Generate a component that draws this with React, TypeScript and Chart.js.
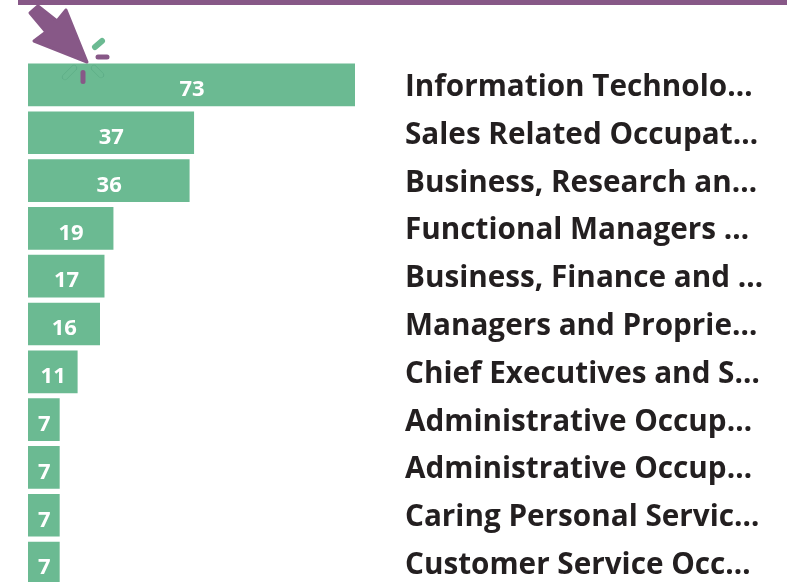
import React, { useEffect, useRef } from "react";
import { Chart, registerables } from "chart.js";

Chart.register(...registerables);

const categories = [
  "Information Technolo…",
  "Sales Related Occupat…",
  "Business, Research an…",
  "Functional Managers …",
  "Business, Finance and …",
  "Managers and Proprie…",
  "Chief Executives and S…",
  "Administrative Occup…",
  "Administrative Occup…",
  "Caring Personal Servic…",
  "Customer Service Occ…",
];
const values = [73, 37, 36, 19, 17, 16, 11, 7, 7, 7, 7];

const GREEN = "#6bba92";
const PURPLE = "#875887";
const FONT = '"Open Sans", sans-serif';

const valueLabels = {
  id: "valueLabels",
  afterDatasetsDraw(chart: any) {
    const { ctx } = chart;
    ctx.save();
    ctx.fillStyle = "#ffffff";
    ctx.font = `700 22px ${FONT}`;
    ctx.textAlign = "center";
    ctx.textBaseline = "middle";
    chart.getDatasetMeta(0).data.forEach((bar: any, i: number) => {
      const cx = (bar.x + bar.base) / 2;
      ctx.fillText(String(values[i]), cx + 0.5, bar.y + 5);
    });
    ctx.restore();
  },
};

export default function App() {
  const ref = useRef<HTMLCanvasElement>(null);
  useEffect(() => {
    document.body.style.margin = "0";
    const chart = new Chart(ref.current!, {
      type: "bar",
      data: {
        labels: categories,
        datasets: [
          {
            data: values,
            backgroundColor: GREEN,
            borderWidth: 0,
            barThickness: 42,
          },
        ],
      },
      options: {
        indexAxis: "y",
        animation: false,
        responsive: false,
        layout: { autoPadding: false, padding: { top: 61, left: 28, right: 0, bottom: 0 } },
        plugins: { legend: { display: false }, tooltip: { enabled: false } },
        scales: {
          x: { display: false, min: 0, max: 73 },
          y: {
            position: "right",
            grid: { display: false },
            border: { display: false },
            afterFit(scale: any) {
              scale.width = 432;
              scale.paddingTop = 0;
              scale.paddingBottom = 0;
            },
            ticks: {
              autoSkip: false,
              padding: 42,
              labelOffset: 2.5,
              color: "#231f20",
              font: { family: FONT, size: 29.7, weight: "700" },
            },
          },
        },
      },
      plugins: [valueLabels],
    });
    return () => chart.destroy();
  }, []);

  return (
    <div style={{ position: "relative", width: 787, height: 582, overflow: "hidden", background: "#fff" }}>
      <canvas ref={ref} width={787} height={587} style={{ position: "absolute", left: 0, top: 0, display: "block" }} />
      <div style={{ position: "absolute", left: 18, top: 0, width: 769, height: 5, background: PURPLE }} />
      <svg width={787} height={582} style={{ position: "absolute", left: 0, top: 0 }}>
        <path
          d="M38 6 L30 13 L46 32 L34 41 L87 62 L66 10 L57 21 Z"
          fill={PURPLE}
          stroke={PURPLE}
          strokeWidth={3}
          strokeLinejoin="round"
        />
        <line x1={95} y1={47} x2={102} y2={41} stroke={GREEN} strokeWidth={6} strokeLinecap="round" />
        <line x1={98} y1={57} x2={107} y2={57} stroke={PURPLE} strokeWidth={5} strokeLinecap="round" />
        <line x1={83} y1={72.5} x2={83} y2={81.5} stroke={PURPLE} strokeWidth={5} strokeLinecap="round" />
        <line x1={65} y1={77} x2={74} y2={68} stroke="#5aa884" strokeWidth={6} strokeLinecap="round" />
        <line x1={65} y1={77} x2={74} y2={68} stroke={GREEN} strokeWidth={5} strokeLinecap="round" />
        <line x1={94} y1={68} x2={101} y2={75} stroke="#5aa884" strokeWidth={6} strokeLinecap="round" />
        <line x1={94} y1={68} x2={101} y2={75} stroke={GREEN} strokeWidth={5} strokeLinecap="round" />
      </svg>
    </div>
  );
}
